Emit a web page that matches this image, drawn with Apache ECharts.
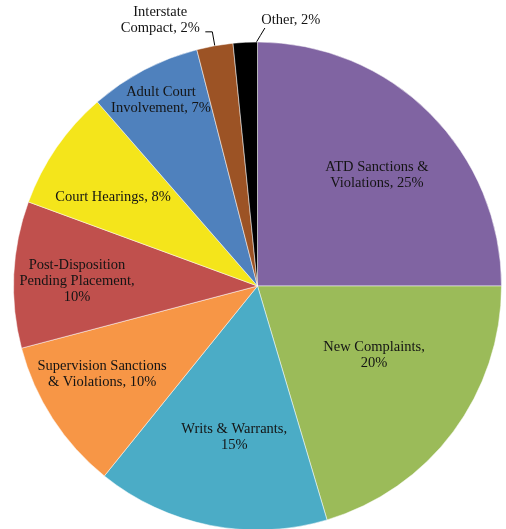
<!DOCTYPE html>
<html>
<head>
<meta charset="utf-8">
<style>
  html, body { margin: 0; padding: 0; background: #fff; }
  #chart { width: 506px; height: 529px; }
</style>
<script src="https://cdn.jsdelivr.net/npm/echarts@6/dist/echarts.min.js"></script>
</head>
<body>
<div id="chart"></div>
<script>
// ---- Data ----
const categories = [
  "ATD Sanctions & Violations",
  "New Complaints",
  "Writs & Warrants",
  "Supervision Sanctions & Violations",
  "Post-Disposition Pending Placement",
  "Court Hearings",
  "Adult Court Involvement",
  "Interstate Compact",
  "Other"
];
const values = [25.0, 20.4, 15.4, 10.1, 9.7, 8.0, 7.4, 2.4, 1.6];
const labelTexts = [
  "ATD Sanctions &\nViolations, 25%",
  "New Complaints,\n20%",
  "Writs & Warrants,\n15%",
  "Supervision Sanctions\n& Violations, 10%",
  "Post-Disposition\nPending Placement,\n10%",
  "Court Hearings, 8%",
  "Adult Court\nInvolvement, 7%",
  "Interstate\nCompact, 2%",
  "Other, 2%"
];
const colors = ["#8064A2", "#9BBB59", "#4BACC6", "#F79646", "#C0504D", "#F4E51B", "#4F81BD", "#9C5325", "#000000"];

// ---- Label placement style (polar: radius factor, angle nudge in degrees) ----
const labelRadius = [0.668, 0.555, 0.626, 0.732, 0.740, 0.695, 0.859, 1.161, 1.099];
const labelNudge  = [2.1, -6.1, -2.4, 3.4, -1.1, -3.0, 0.3, -10.0, 10.0];
const outside = [false, false, false, false, false, false, false, true, true];

const CX = 257.5, CY = 286, R = 244;

const total = values.reduce((a, b) => a + b, 0);
const midAngles = [];
{
  let acc = 0;
  values.forEach(v => { midAngles.push((acc + v / 2) / total * 360); acc += v; });
}
function polar(angDeg, rad) {
  const a = angDeg * Math.PI / 180;
  return [CX + rad * Math.sin(a), CY - rad * Math.cos(a)];
}

const chart = echarts.init(document.getElementById('chart'), null, { renderer: 'canvas' });
chart.setOption({
  backgroundColor: '#ffffff',
  animation: false,
  series: [{
    type: 'pie',
    center: [CX, CY],
    radius: R,
    startAngle: 90,
    clockwise: true,
    avoidLabelOverlap: false,
    silent: true,
    itemStyle: { borderColor: '#ffffff', borderWidth: 0.5 },
    label: {
      show: true,
      position: 'inside',
      formatter: p => labelTexts[p.dataIndex],
      fontFamily: '"Liberation Serif", "DejaVu Serif", serif',
      fontSize: 14.5,
      lineHeight: 16,
      color: '#141414',
      align: 'center'
    },
    labelLine: { show: true, length: 10, length2: 6, lineStyle: { color: '#000', width: 1 } },
    labelLayout: function (params) {
      const i = params.dataIndex;
      const pos = polar(midAngles[i] + labelNudge[i], labelRadius[i] * R);
      const res = { x: pos[0], y: pos[1], align: 'center', verticalAlign: 'middle' };
      if (outside[i]) {
        let p0, p1, p2;
        if (i === 7) {
          p0 = polar(midAngles[i], R);
          p1 = polar(midAngles[i], R * 1.058);
          p2 = [p1[0] - 7, p1[1]];
        } else {
          p0 = polar(midAngles[i] + 2.5, R - 1);
          p1 = [p0[0] + 4.5, p0[1] - 7.5];
          p2 = [p0[0] + 9, p0[1] - 15];
        }
        res.labelLinePoints = [p0, p1, p2];
      }
      return res;
    },
    data: categories.map((c, i) => ({
      name: c,
      value: values[i],
      itemStyle: { color: colors[i] },
      label: { position: outside[i] ? 'outside' : 'inside' },
      labelLine: { show: outside[i] }
    }))
  }]
});
</script>
</body>
</html>
